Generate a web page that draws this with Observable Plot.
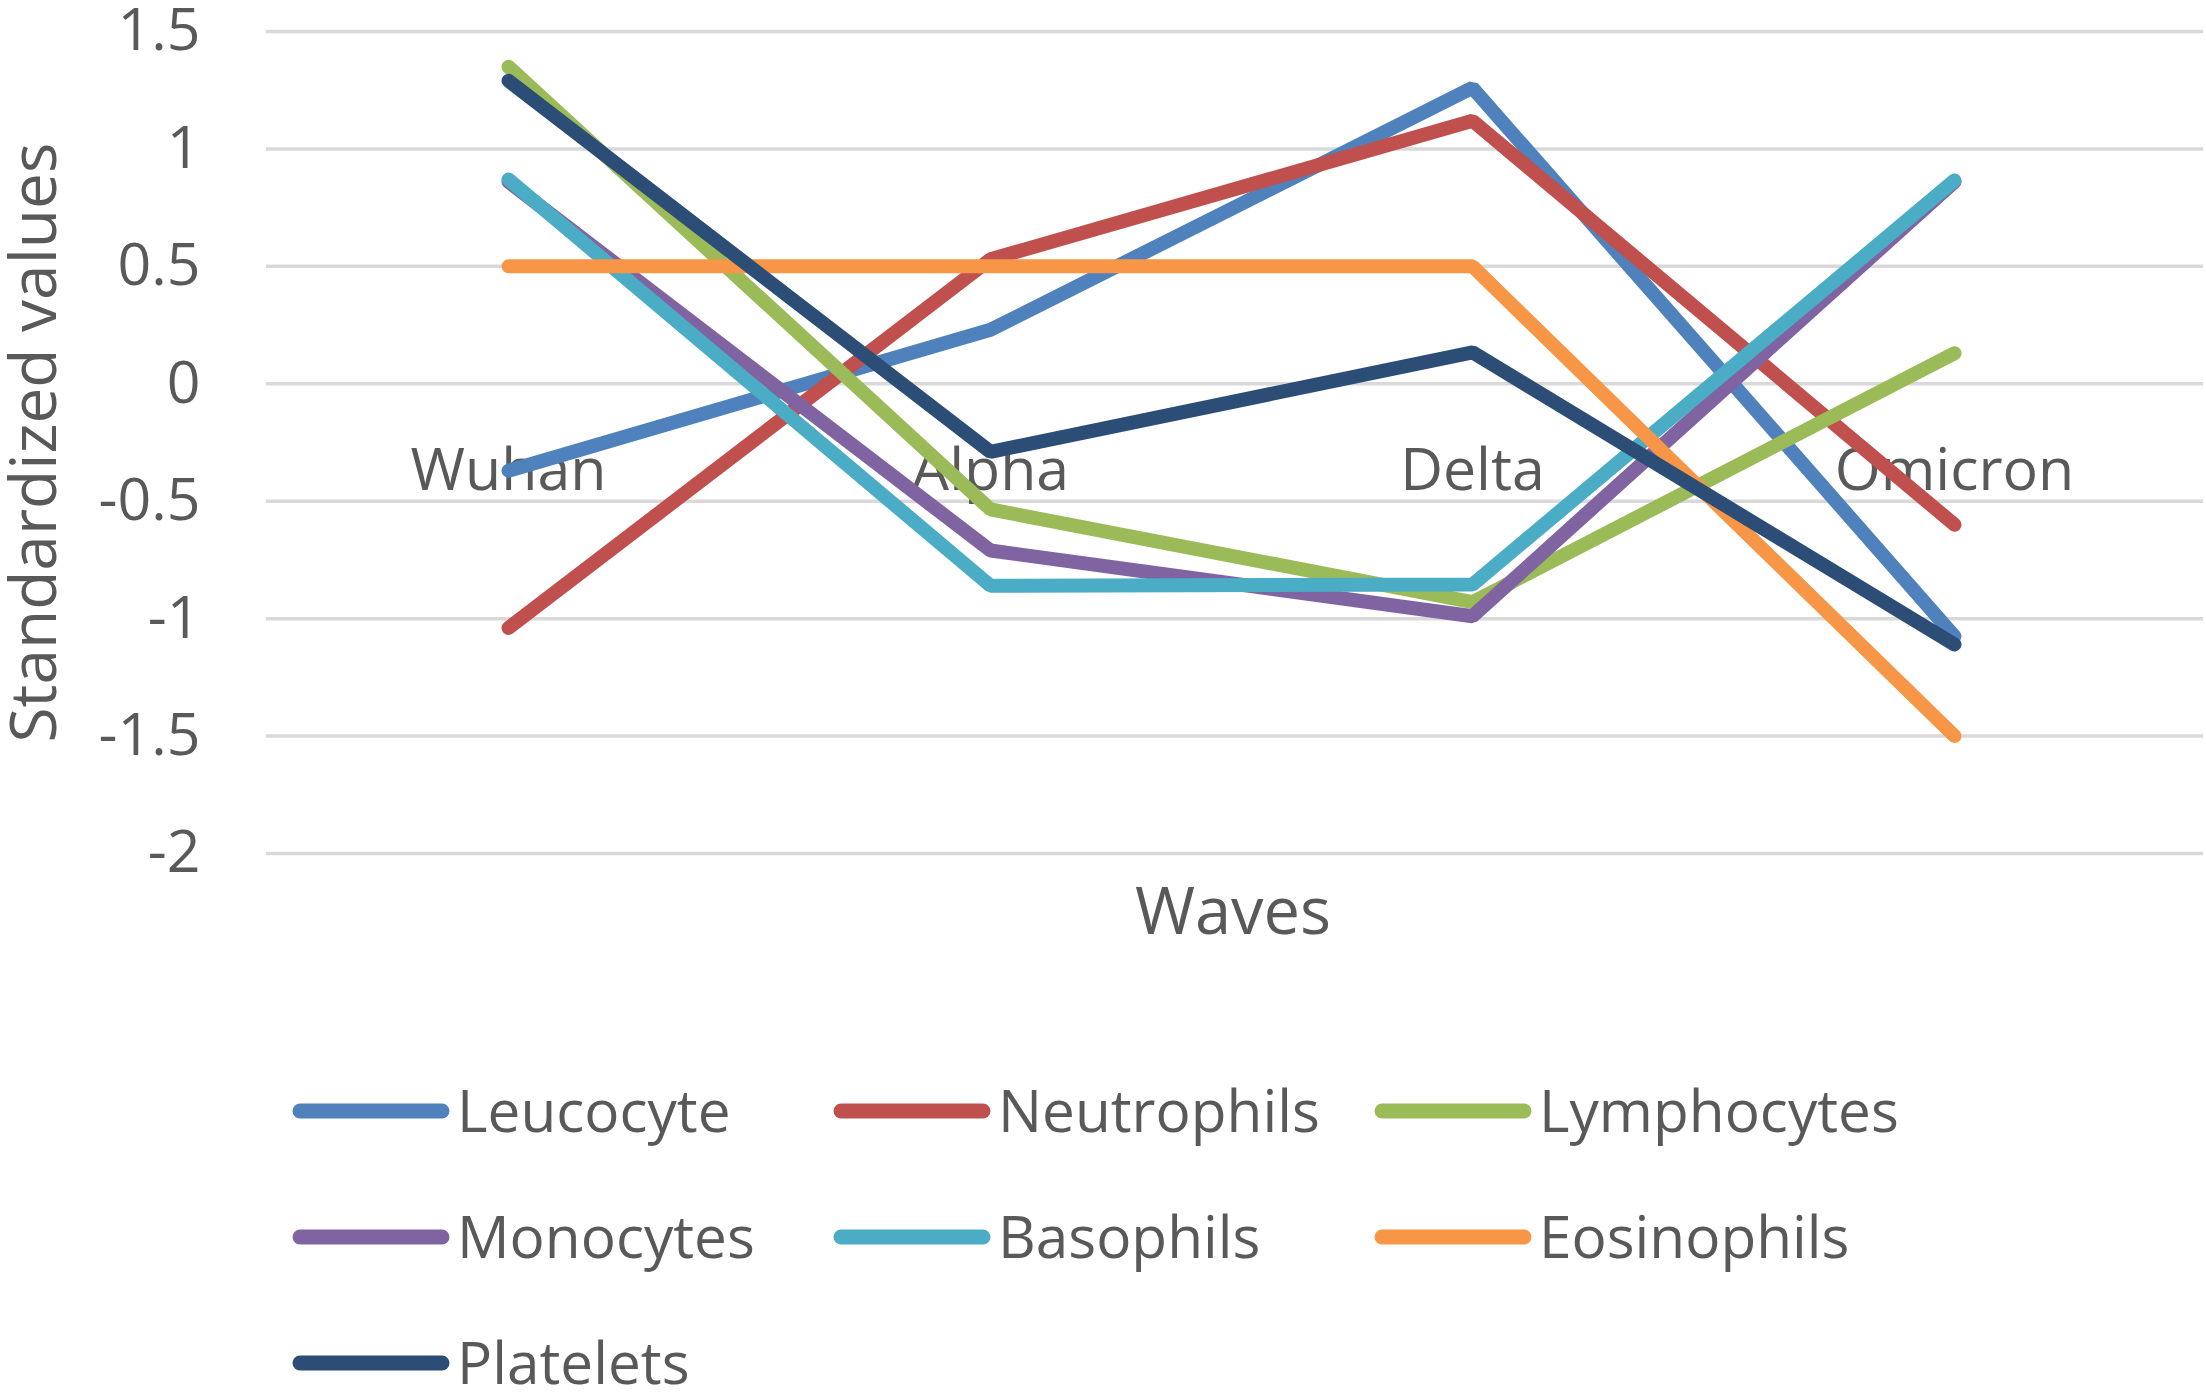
<!DOCTYPE html>
<html>
<head>
<meta charset="utf-8">
<script src="https://cdn.jsdelivr.net/npm/d3@7"></script>
<script src="https://cdn.jsdelivr.net/npm/@observablehq/plot@0.6"></script>
<style>
  html, body { margin: 0; padding: 0; background: #ffffff; }
  body { width: 2206px; height: 1397px; overflow: hidden; font-family: "Open Sans", sans-serif; }
  #legend {
    display: grid;
    grid-template-columns: repeat(3, 541px);
    grid-auto-rows: 126px;
    padding-left: 292px;
    padding-top: 48px;
    box-sizing: border-box;
    height: 397px;
  }
  .item { display: flex; align-items: center; color: #595959; font-size: 58.5px; font-family: "Open Sans", sans-serif; }
  .item svg { margin-right: 7px; flex: none; }
  .item span { position: relative; top: -2px; }
</style>
</head>
<body>
<div id="chart"></div>
<div id="legend"></div>
<script>
// ---- data ----
const waves = ["Wuhan", "Alpha", "Delta", "Omicron"];
const seriesNames = ["Leucocyte", "Neutrophils", "Lymphocytes", "Monocytes", "Basophils", "Eosinophils", "Platelets"];
const seriesColors = ["#4F81BD", "#C0504D", "#9BBB59", "#8064A2", "#4BACC6", "#F79646", "#2C4D75"];
const leucocyte   = [-0.37, 0.23, 1.26, -1.075];
const neutrophils = [-1.04, 0.53, 1.12, -0.60];
const lymphocytes = [1.35, -0.535, -0.93, 0.13];
const monocytes   = [0.86, -0.71, -0.99, 0.86];
const basophils   = [0.87, -0.86, -0.855, 0.866];
const eosinophils = [0.5, 0.5, 0.5, -1.5];
const platelets   = [1.29, -0.29, 0.134, -1.11];
const yTicks = [-2, -1.5, -1, -0.5, 0, 0.5, 1, 1.5];
const yTitle = "Standardized values";
const xTitle = "Waves";

const seriesValues = [leucocyte, neutrophils, lymphocytes, monocytes, basophils, eosinophils, platelets];
const rows = [];
seriesNames.forEach((name, i) => {
  waves.forEach((w, j) => rows.push({series: name, wave: w, value: seriesValues[i][j]}));
});

const textColor = "#595959";
const font = "Open Sans";

const chart = Plot.plot({
  width: 2206,
  height: 1000,
  marginLeft: 266,
  marginRight: 3,
  marginTop: 31,
  marginBottom: 147,
  style: {fontFamily: font, background: "#ffffff", overflow: "visible"},
  x: {type: "point", domain: waves, range: [266, 2196], padding: 0.5, axis: null},
  y: {domain: [-2, 1.5], axis: null},
  color: {domain: seriesNames, range: seriesColors},
  marks: [
    Plot.ruleY(yTicks, {stroke: "#d9d9d9", strokeWidth: 3.5}),
    Plot.axisY({
      ticks: yTicks,
      tickSize: 0,
      tickPadding: 66,
      tickFormat: d => String(d),
      fontSize: 59,
      fill: textColor,
      label: null
    }),
    Plot.text(waves, {
      x: d => d,
      y: () => 0,
      dy: 87,
      fontSize: 59,
      fill: textColor,
      fontFamily: font
    }),
    Plot.line(rows, {
      x: "wave",
      y: "value",
      z: "series",
      stroke: "series",
      strokeWidth: 14,
      strokeLinecap: "round",
      strokeLinejoin: "miter"
    }),
    Plot.text([yTitle], {
      frameAnchor: "left",
      textAnchor: "middle",
      rotate: -90,
      dx: -231,
      fontSize: 64,
      fill: textColor,
      fontFamily: font
    }),
    Plot.text([xTitle], {
      frameAnchor: "bottom",
      dy: 80,
      dx: -2,
      fontSize: 65,
      fill: textColor,
      fontFamily: font
    })
  ]
});
document.getElementById("chart").appendChild(chart);

// ---- legend ----
const legend = d3.select("#legend");
seriesNames.forEach((name, i) => {
  const item = legend.append("div").attr("class", "item");
  const svg = item.append("svg").attr("width", 158).attr("height", 20);
  svg.append("line")
    .attr("x1", 8).attr("x2", 150).attr("y1", 10).attr("y2", 10)
    .attr("stroke", seriesColors[i]).attr("stroke-width", 15).attr("stroke-linecap", "round");
  item.append("span").text(name);
});
</script>
</body>
</html>
